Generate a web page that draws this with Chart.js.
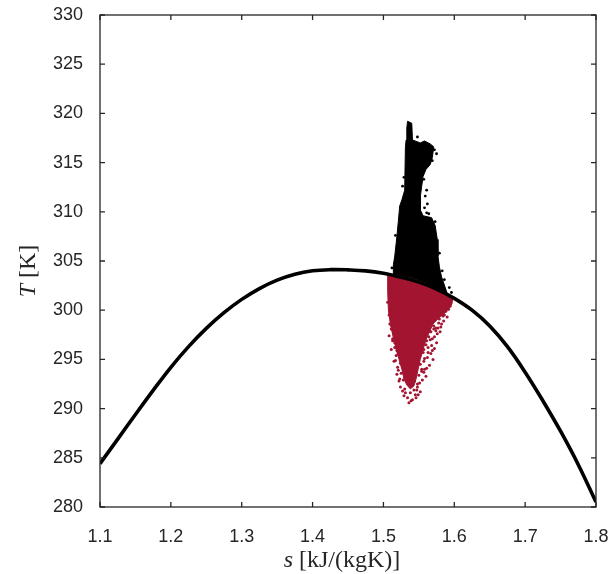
<!DOCTYPE html>
<html lang="en">
  <head>
    <meta charset="UTF-8" />
    <title>T-s diagram</title>
    <script src="https://cdn.jsdelivr.net/npm/chart.js"></script>
    <style>
      body,
      html {
        margin: 0;
        background: #fff;
      }
      #wrap {
        width: 611px;
        height: 574px;
      }
    </style>
  </head>
  <body>
    <div id="wrap"><canvas id="myChart" width="611" height="574"></canvas></div>
    <script>
      // saturation dome
      const domeS = [1.1, 1.125, 1.15, 1.175, 1.2, 1.225, 1.25, 1.275, 1.3, 1.325, 1.35, 1.375, 1.4, 1.425, 1.45, 1.475, 1.5, 1.525, 1.55, 1.575, 1.6, 1.625, 1.65, 1.675, 1.7, 1.725, 1.75, 1.775, 1.8];
      const domeT = [284.4, 286.9, 289.4, 291.85, 294.2, 296.3, 298.15, 299.75, 301.1, 302.2, 303.05, 303.65, 304.0, 304.12, 304.1, 304.0, 303.75, 303.35, 302.85, 302.15, 301.2, 300.0, 298.4, 296.3, 293.7, 290.8, 287.7, 284.3, 280.5];

      // black cloud (above the dome), outline of the dense part
      const upperS = [1.534, 1.540, 1.541, 1.552, 1.558, 1.566, 1.571, 1.569, 1.566, 1.560, 1.556, 1.554, 1.552, 1.552, 1.556, 1.568, 1.573, 1.576, 1.577, 1.579, 1.582, 1.590, 1.580, 1.560, 1.540, 1.520, 1.514, 1.514, 1.516, 1.519, 1.521, 1.523, 1.526, 1.530, 1.531, 1.532, 1.533, 1.534];
      const upperT = [319.2, 319.0, 317.3, 317.0, 317.2, 316.9, 316.6, 315.5, 314.8, 314.3, 313.6, 312.6, 311.5, 310.2, 309.6, 309.4, 308.6, 307.2, 305.5, 304.4, 303.4, 301.7, 302.0, 302.8, 303.3, 303.6, 303.7, 304.6, 305.5, 307.5, 309.0, 310.6, 311.2, 312.2, 316.5, 317.3, 318.5, 319.2];
      const upperDotS = [1.557, 1.561, 1.559, 1.562, 1.558, 1.561, 1.564, 1.572, 1.575, 1.583, 1.586, 1.593, 1.596, 1.529, 1.527, 1.569, 1.548, 1.573, 1.565, 1.579, 1.512, 1.517];
      const upperDotT = [313.3, 312.2, 311.6, 310.8, 310.4, 309.9, 309.8, 316.3, 315.9, 304.0, 303.1, 302.3, 301.8, 313.5, 312.6, 315.2, 317.6, 309.0, 316.7, 305.8, 304.3, 307.6];

      // red cloud (under the dome), outline of the dense part
      const lowerS = [1.506, 1.52, 1.54, 1.56, 1.58, 1.598, 1.596, 1.588, 1.578, 1.570, 1.565, 1.560, 1.556, 1.552, 1.549, 1.546, 1.543, 1.538, 1.533, 1.529, 1.526, 1.522, 1.518, 1.514, 1.510, 1.507, 1.506, 1.506];
      const lowerT = [303.7, 303.5, 303.2, 302.7, 301.9, 301.1, 300.5, 299.8, 299.2, 298.6, 297.8, 297.0, 296.0, 295.0, 294.0, 293.0, 292.3, 292.0, 292.4, 293.0, 294.0, 295.0, 296.0, 297.2, 298.5, 300.0, 302.0, 303.7];
      const lowerDotS = [
        1.510, 1.512, 1.509, 1.514, 1.513, 1.516, 1.518, 1.515, 1.520, 1.519, 1.522, 1.524, 1.527, 1.529, 1.525, 1.562, 1.568, 1.575, 1.583, 1.588,
        1.571, 1.578, 1.565, 1.572, 1.559, 1.560, 1.568, 1.575, 1.556, 1.562, 1.570, 1.552, 1.558, 1.565, 1.550, 1.555, 1.560, 1.548, 1.552, 1.546,
        1.549, 1.592, 1.585, 1.580, 1.538, 1.534, 1.543, 1.506, 1.508, 1.511, 1.517, 1.521, 1.566, 1.574, 1.581, 1.590, 1.594, 1.576, 1.569, 1.563,
        1.557, 1.554, 1.551, 1.547, 1.541, 1.536, 1.531, 1.528, 1.523, 1.530, 1.545, 1.557, 1.584, 1.567, 1.561, 1.553, 1.539,
        1.508, 1.511, 1.513, 1.516, 1.519, 1.521, 1.524, 1.563, 1.567, 1.571, 1.574, 1.579, 1.582, 1.586, 1.564, 1.559, 1.555, 1.561, 1.566, 1.557,
        1.553, 1.550, 1.517, 1.520, 1.523, 1.526, 1.528, 1.515, 1.512, 1.577, 1.589, 1.595, 1.572, 1.569, 1.563, 1.558, 1.554, 1.533, 1.544, 1.548,
      ];
      const lowerDotT = [
        300.2, 299.0, 298.6, 297.8, 296.9, 296.2, 295.4, 294.8, 294.2, 293.5, 292.8, 292.2, 291.8, 291.3, 293.6, 299.0, 299.3, 299.6, 299.8, 299.9,
        298.4, 298.7, 297.9, 297.3, 297.6, 296.5, 296.4, 296.7, 295.7, 295.2, 295.0, 294.5, 294.0, 294.4, 293.4, 292.9, 293.3, 292.2, 291.7, 291.1,
        291.4, 300.1, 298.9, 297.8, 291.6, 291.1, 291.9, 300.8, 297.4, 296.0, 294.9, 293.9, 298.9, 298.2, 298.3, 299.3, 300.4, 297.6, 297.1, 296.2,
        294.8, 293.8, 292.6, 291.9, 290.9, 290.6, 291.6, 292.9, 293.0, 292.0, 291.4, 293.7, 299.4, 295.6, 294.1, 296.6, 290.8,
        299.5, 298.1, 297.1, 296.7, 295.9, 295.6, 294.6, 298.6, 297.8, 298.1, 297.9, 299.1, 298.6, 299.5, 297.3, 298.2, 297.5, 296.9, 297.0, 296.0,
        296.3, 295.3, 297.9, 297.1, 296.4, 295.5, 294.9, 298.9, 299.6, 298.2, 300.5, 300.7, 296.1, 295.9, 295.7, 295.1, 294.0, 293.6, 292.8, 292.5,
      ];

      const xTicks = [1.1, 1.2, 1.3, 1.4, 1.5, 1.6, 1.7, 1.8];
      const yTicks = [280, 285, 290, 295, 300, 305, 310, 315, 320, 325, 330];

      const red = "#a2142f";
      const axisColor = "#262626";

      function pts(xs, ys) {
        return xs.map((x, i) => ({ x: x, y: ys[i] }));
      }

      // MATLAB style box with inward ticks + latex-ish axis labels
      const boxPlugin = {
        id: "box",
        afterDraw(chart) {
          const ctx = chart.ctx;
          const a = chart.chartArea;
          const xs = chart.scales.x;
          const ys = chart.scales.y;
          ctx.save();
          ctx.strokeStyle = axisColor;
          ctx.lineWidth = 1.3;
          ctx.strokeRect(a.left, a.top, a.right - a.left, a.bottom - a.top);
          ctx.beginPath();
          xTicks.forEach((v) => {
            const px = xs.getPixelForValue(v);
            ctx.moveTo(px, a.bottom);
            ctx.lineTo(px, a.bottom - 5);
            ctx.moveTo(px, a.top);
            ctx.lineTo(px, a.top + 5);
          });
          yTicks.forEach((v) => {
            const py = ys.getPixelForValue(v);
            ctx.moveTo(a.left, py);
            ctx.lineTo(a.left + 5, py);
            ctx.moveTo(a.right, py);
            ctx.lineTo(a.right - 5, py);
          });
          ctx.stroke();

          ctx.fillStyle = axisColor;
          ctx.textBaseline = "alphabetic";
          const xParts = [
            ["italic 24px 'Liberation Serif', serif", "s "],
            ["24px 'Liberation Serif', serif", "[kJ/(kgK)]"],
          ];
          let w = 0;
          xParts.forEach((p) => {
            ctx.font = p[0];
            w += ctx.measureText(p[1]).width;
          });
          let x = (a.left + a.right) / 2 - w / 2 - 6;
          xParts.forEach((p) => {
            ctx.font = p[0];
            ctx.fillText(p[1], x, 567);
            x += ctx.measureText(p[1]).width;
          });

          const yParts = [
            ["italic 24px 'Liberation Serif', serif", "T "],
            ["24px 'Liberation Serif', serif", "[K]"],
          ];
          w = 0;
          yParts.forEach((p) => {
            ctx.font = p[0];
            w += ctx.measureText(p[1]).width;
          });
          ctx.translate(35, (a.top + a.bottom) / 2 + 10);
          ctx.rotate(-Math.PI / 2);
          x = -w / 2;
          yParts.forEach((p) => {
            ctx.font = p[0];
            ctx.fillText(p[1], x, 0);
            x += ctx.measureText(p[1]).width;
          });
          ctx.restore();
        },
      };

      const ctx = document.getElementById("myChart").getContext("2d");
      new Chart(ctx, {
        type: "line",
        data: {
          datasets: [
            {
              label: "dome",
              data: pts(domeS, domeT),
              borderColor: "#000",
              borderWidth: 3.6,
              pointRadius: 0,
              tension: 0.4,
              fill: false,
              order: 0,
            },
            {
              label: "lower dots",
              data: pts(lowerDotS, lowerDotT),
              showLine: false,
              pointRadius: 1.5,
              pointBorderWidth: 0,
              pointBackgroundColor: red,
              order: 1,
            },
            {
              label: "lower cloud",
              data: pts(lowerS, lowerT),
              borderColor: red,
              backgroundColor: red,
              borderWidth: 1,
              pointRadius: 0,
              fill: "shape",
              tension: 0,
              order: 2,
            },
            {
              label: "upper dots",
              data: pts(upperDotS, upperDotT),
              showLine: false,
              pointRadius: 1.4,
              pointBorderWidth: 0,
              pointBackgroundColor: "#000",
              order: 3,
            },
            {
              label: "upper cloud",
              data: pts(upperS, upperT),
              borderColor: "#000",
              backgroundColor: "#000",
              borderWidth: 1,
              pointRadius: 0,
              fill: "shape",
              tension: 0,
              order: 4,
            },
          ],
        },
        options: {
          responsive: false,
          animation: false,
          layout: { padding: { top: 15, right: 15, left: 0, bottom: 0 } },
          plugins: {
            legend: { display: false },
            tooltip: { enabled: false },
          },
          scales: {
            x: {
              type: "linear",
              min: 1.1,
              max: 1.8,
              afterFit: (s) => {
                s.height = 67;
                s.paddingLeft = 0;
                s.paddingRight = 0;
              },
              afterBuildTicks: (s) => {
                s.ticks = xTicks.map((v) => ({ value: v }));
              },
              grid: { display: false },
              border: { display: false },
              ticks: {
                padding: 11,
                color: axisColor,
                font: { family: "'Liberation Sans', Arial, sans-serif", size: 18 },
                callback: (v) => v.toFixed(1),
              },
            },
            y: {
              type: "linear",
              min: 280,
              max: 330,
              afterFit: (s) => {
                s.width = 100;
                s.paddingTop = 0;
                s.paddingBottom = 0;
              },
              afterBuildTicks: (s) => {
                s.ticks = yTicks.map((v) => ({ value: v }));
              },
              grid: { display: false },
              border: { display: false },
              ticks: {
                padding: 9,
                color: axisColor,
                font: { family: "'Liberation Sans', Arial, sans-serif", size: 18 },
              },
            },
          },
        },
        plugins: [boxPlugin],
      });
    </script>
  </body>
</html>
